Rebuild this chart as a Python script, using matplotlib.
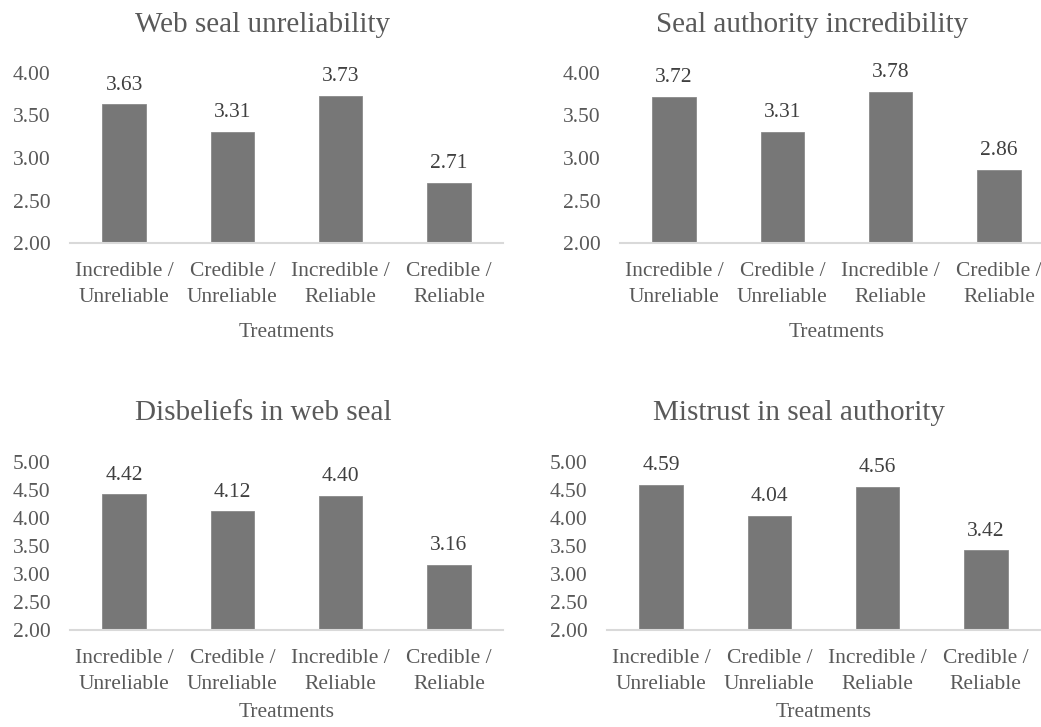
import matplotlib
matplotlib.use("Agg")
import matplotlib.pyplot as plt

plt.rcParams['font.family'] = ['Liberation Serif', 'DejaVu Serif']

treatments = ["Incredible /\nUnreliable", "Credible /\nUnreliable",
              "Incredible /\nReliable", "Credible /\nReliable"]

seal_unreliability = [3.63, 3.31, 3.73, 2.71]
authority_incredibility = [3.72, 3.31, 3.78, 2.86]
disbeliefs_seal = [4.42, 4.12, 4.40, 3.16]
mistrust_authority = [4.59, 4.04, 4.56, 3.42]

titles = ["Web seal unreliability", "Seal authority incredibility",
          "Disbeliefs in web seal", "Mistrust in seal authority"]
y_ranges = [(2.0, 4.0), (2.0, 4.0), (2.0, 5.0), (2.0, 5.0)]

W, H = 1041, 727
TXT = "#595959"
BAR = "#777777"

fig = plt.figure(figsize=(W / 100, H / 100), dpi=100)

# axes boxes in pixels: left, top, right, bottom
boxes = [(70, 73, 503, 243), (620, 73, 1053, 243),
         (70, 462, 503, 630), (607, 462, 1040, 630)]
title_pos = [(263, 25), (812, 25), (263, 413), (799, 413)]
label_pads = [12, 12, 7, 7]
series = [seal_unreliability, authority_incredibility, disbeliefs_seal, mistrust_authority]

for k in range(4):
    l, t, r, b = boxes[k]
    ax = fig.add_axes([l / W, 1 - b / H, (r - l) / W, (b - t) / H])
    vals = series[k]
    x = range(len(vals))
    lo, hi = y_ranges[k]
    ax.bar(x, [v - lo for v in vals], bottom=lo, width=0.4,
           color=BAR, edgecolor="#8a8a8a", linewidth=0.6, zorder=2)
    for i, v in enumerate(vals):
        ax.annotate(f"{v:.2f}", (i, v), xytext=(0, 7), textcoords="offset points",
                    ha="center", va="bottom", fontsize=15.5, color="#404040")
    ax.set_xlim(-0.5, 3.5)
    ax.set_ylim(lo, hi)
    ticks = [lo + 0.5 * j for j in range(int((hi - lo) / 0.5) + 1)]
    ax.set_yticks(ticks)
    ax.set_yticklabels([f"{v:.2f}" for v in ticks])
    ax.set_xticks(list(x))
    ax.set_xticklabels(treatments, linespacing=1.45)
    ax.tick_params(axis="y", length=0, pad=14, labelsize=15.5, labelcolor=TXT)
    ax.tick_params(axis="x", length=0, pad=14, labelsize=15.5, labelcolor=TXT)
    for s in ["top", "right", "left"]:
        ax.spines[s].set_visible(False)
    ax.spines["bottom"].set_color("#d9d9d9")
    ax.spines["bottom"].set_linewidth(1.5)
    ax.set_xlabel("Treatments", fontsize=15.5, color=TXT, labelpad=label_pads[k])
    tx, ty = title_pos[k]
    fig.text(tx / W, 1 - ty / H, titles[k], ha="center", va="center",
             fontsize=21, color=TXT)

fig.savefig("out.png", dpi=100, facecolor="white")
